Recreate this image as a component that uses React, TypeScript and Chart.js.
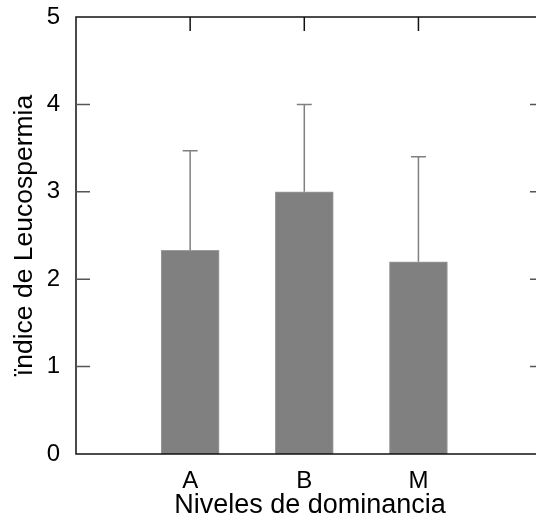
import React, { useEffect, useRef } from "react";
import { Chart, registerables } from "chart.js";

Chart.register(...registerables);

const categories = ["A", "B", "M"];
const positions = [1, 2, 3];
const means = [2.33, 3.0, 2.2];
const upperErrors = [1.14, 1.0, 1.2];
const yTickValues = [0, 1, 2, 3, 4, 5];

const FONT = "'Liberation Sans', Arial, sans-serif";

const framePlugin = {
  id: "framePlugin",
  afterDatasetsDraw(chart: any) {
    const ctx = chart.ctx;
    const x = chart.scales.x;
    const y = chart.scales.y;
    ctx.save();
    ctx.strokeStyle = "#808080";
    ctx.lineWidth = 1.5;
    positions.forEach((p, i) => {
      const px = x.getPixelForValue(p);
      const y0 = y.getPixelForValue(means[i]);
      const y1 = y.getPixelForValue(means[i] + upperErrors[i]);
      ctx.beginPath();
      ctx.moveTo(px, y0);
      ctx.lineTo(px, y1);
      ctx.moveTo(px - 7.5, y1);
      ctx.lineTo(px + 7.5, y1);
      ctx.stroke();
    });
    ctx.restore();
  },
  afterDraw(chart: any) {
    const ctx = chart.ctx;
    const a = chart.chartArea;
    const x = chart.scales.x;
    const y = chart.scales.y;
    const tick = 14;
    ctx.save();
    ctx.strokeStyle = "#111";
    ctx.lineWidth = 1.5;
    ctx.strokeRect(a.left, a.top, a.right - a.left, a.bottom - a.top);
    ctx.beginPath();
    positions.forEach((p) => {
      const px = x.getPixelForValue(p);
      ctx.moveTo(px, a.top);
      ctx.lineTo(px, a.top + tick);
    });
    ctx.stroke();
    ctx.strokeStyle = "#555";
    ctx.beginPath();
    yTickValues.forEach((v) => {
      if (v === 0 || v === 5) return;
      const py = y.getPixelForValue(v);
      ctx.moveTo(a.left, py);
      ctx.lineTo(a.left + tick, py);
      ctx.moveTo(a.right, py);
      ctx.lineTo(a.right - tick, py);
    });
    ctx.stroke();
    ctx.restore();
  },
};

export default function App() {
  const ref = useRef<HTMLCanvasElement>(null);
  useEffect(() => {
    if (!ref.current) return;
    const chart = new Chart(ref.current, {
      type: "bar",
      data: {
        datasets: [
          {
            data: positions.map((p, i) => ({ x: p, y: means[i] })) as any,
            backgroundColor: "#808080",
            borderColor: "#9c9c9c",
            borderWidth: 1,
            barThickness: 58,
          },
        ],
      },
      options: {
        animation: false,
        responsive: false,
        maintainAspectRatio: false,
        layout: { padding: { top: 17, right: 6, left: 0, bottom: 0 } },
        plugins: { legend: { display: false }, tooltip: { enabled: false } },
        scales: {
          x: {
            type: "linear",
            min: 0,
            max: 4.1,
            offset: false,
            afterBuildTicks: (s: any) => {
              s.ticks = positions.map((v) => ({ value: v }));
            },
            afterFit: (s: any) => {
              s.height = 65;
              s.paddingLeft = 0;
              s.paddingRight = 0;
            },
            ticks: {
              callback: (v: any) => categories[positions.indexOf(Number(v))] ?? "",
              font: { family: FONT, size: 24 },
              color: "#000",
              padding: 5,
              maxRotation: 0,
              autoSkip: false,
            },
            grid: { display: false },
            border: { display: false },
            title: {
              display: true,
              text: "Niveles de dominancia",
              font: { family: FONT, size: 27, lineHeight: 1 },
              color: "#000",
              padding: { top: 0, bottom: 0 },
            },
          },
          y: {
            min: 0,
            max: 5,
            afterBuildTicks: (s: any) => {
              s.ticks = yTickValues.map((v) => ({ value: v }));
            },
            afterFit: (s: any) => {
              s.width = 76;
              s.paddingTop = 0;
              s.paddingBottom = 0;
            },
            ticks: {
              font: { family: FONT, size: 24 },
              color: "#000",
              padding: 8,
            },
            grid: { display: false },
            border: { display: false },
            title: {
              display: true,
              text: "ïndice de Leucospermia",
              font: { family: FONT, size: 26.5, lineHeight: 1 },
              color: "#000",
              padding: { top: 11, bottom: 0 },
            },
          },
        },
      },
      plugins: [framePlugin],
    });
    return () => chart.destroy();
  }, []);
  return (
    <div
      style={{
        position: "fixed",
        left: 0,
        top: 0,
        width: 536,
        height: 519,
        overflow: "hidden",
        background: "#fff",
      }}
    >
      <canvas ref={ref} width={550} height={519} style={{ display: "block" }} />
    </div>
  );
}
